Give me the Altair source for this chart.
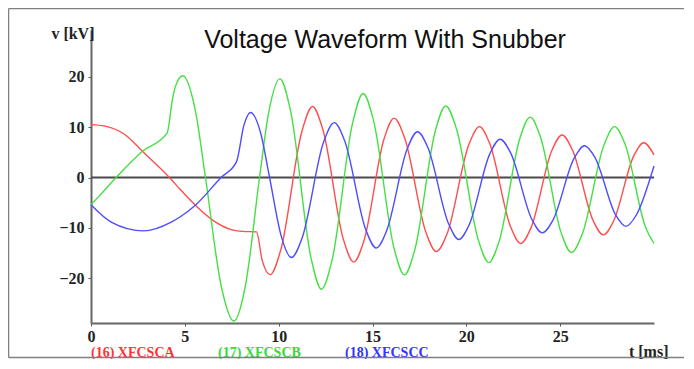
import altair as alt
import pandas as pd

# ---- data ----
series_names = ["(16) XFCSCA", "(17) XFCSCB", "(18) XFCSCC"]
series_colors = ["#ff4d4d", "#44e044", "#4d4dff"]
label_colors = ["#ff3333", "#33dd33", "#3333ff"]

red_t = [0, 0.75, 1.82, 2.74, 4.18, 4.76, 5.56, 6.54, 7.43, 8.1, 8.82, 9.12,
         9.55, 10.11, 11.24, 11.8, 12.35, 13.45, 14.0, 14.54, 15.61, 16.15,
         16.71, 17.84, 18.4, 18.98, 20.13, 20.7, 21.25, 22.35, 22.9, 23.45,
         24.55, 25.1, 25.65, 26.75, 27.3, 27.84, 28.91, 29.45, 30.0]
red_v = [10.5, 10.2, 8.5, 5.2, 0, -2.4, -5.5, -8.6, -10.3, -10.7, -10.8, -16.4,
         -19.3, -14.4, 9.2, 14.1, 9.6, -12.3, -16.8, -12.6, 7.6, 11.8,
         7.9, -10.8, -14.7, -11.1, 6.5, 10.1, 6.7, -9.7, -13.1, -9.95,
         5.3, 8.45, 5.5, -8.5, -11.4, -8.7, 4.2, 6.9, 4.5]

green_t = [0, 0.48, 1.34, 2.74, 4.05, 4.35, 4.49, 4.89, 5.57, 6.1, 6.93, 7.61,
           8.23, 8.98, 9.45, 10.07, 10.62, 11.73, 12.28, 12.84, 13.95, 14.5,
           15.05, 16.15, 16.7, 17.25, 18.35, 18.9, 19.48, 20.63, 21.2, 21.75,
           22.85, 23.4, 23.95, 25.05, 25.6, 26.18, 27.33, 27.9, 28.45, 29.55, 30.0]
green_v = [-5.4, -3.5, 0, 5.2, 8.8, 15.7, 18.0, 20.2, 13.1, 0, -21.4, -28.5,
           -21.45, 0, 12.55, 19.6, 13.5, -16.1, -22.2, -16.5, 11.0, 16.7,
           11.4, -14.1, -19.35, -14.4, 9.3, 14.2, 9.6, -12.3, -16.9, -12.65,
           7.75, 12.0, 8.05, -10.95, -14.9, -11.2, 6.4, 10.1, 6.7, -9.9, -13.1]

blue_t = [0, 1.1, 2.8, 4.3, 4.76, 5.56, 6.93, 7.75, 8.15, 8.5, 9.05, 9.5, 10.14,
          10.68, 11.25, 12.39, 12.96, 13.52, 14.64, 15.2, 15.75, 16.85, 17.4,
          17.95, 19.05, 19.6, 20.15, 21.25, 21.8, 22.36, 23.49, 24.05, 24.61,
          25.74, 26.3, 26.85, 27.95, 28.5, 29.05, 30.0]
blue_v = [-5.4, -8.9, -10.6, -8.8, -7.8, -5.5, 0, 3.1, 10.4, 12.9, 8.7, 0.3, -11.7,
          -15.9, -12.0, 7.0, 10.9, 7.25, -10.35, -14.0, -10.6, 5.7, 9.1,
          5.95, -9.15, -12.3, -9.4, 4.7, 7.6, 4.9, -8.3, -11.0, -8.5,
          3.8, 6.3, 4.0, -7.4, -9.7, -7.5, 2.3]

x_ticks = [0, 5, 10, 15, 20, 25]
y_ticks = [-20, -10, 0, 10, 20]
title_text = "Voltage Waveform With Snubber"

# ---- build table ----
rows = []
for order, (name, ts, vs) in enumerate(zip(series_names, [red_t, green_t, blue_t],
                                            [red_v, green_v, blue_v])):
    for t, v in zip(ts, vs):
        rows.append({"series": name, "t": t, "v": v, "k": order})
df = pd.DataFrame(rows)

W, H = 563, 293
PAD = {"left": 83, "top": 22, "right": 30, "bottom": 36}

x_scale = alt.Scale(domain=[0, 30], nice=False, zero=False)
y_scale = alt.Scale(domain=[-28.9, 29.3], nice=False, zero=False)

serif = "Liberation Serif"
x_axis = alt.Axis(values=x_ticks, title="t [ms]", titleAngle=0, titleAlign="right",
                  titleBaseline="middle", titleX=577, titleY=28, titleFont=serif,
                  titleFontWeight="bold", titleFontSize=16, titleColor="#222",
                  labelFont=serif, labelFontWeight="bold", labelFontSize=16,
                  labelColor="#222", labelPadding=2, tickSize=3, tickColor="#555",
                  domainColor="#666", domainWidth=2, grid=False, labelFlush=False)
y_axis = alt.Axis(values=y_ticks, title="v [kV]", titleAngle=0, titleAlign="right",
                  titleBaseline="middle", titleX=3, titleY=3, titleFont=serif,
                  titleFontWeight="bold", titleFontSize=16, titleColor="#222",
                  labelFont=serif, labelFontWeight="bold", labelFontSize=16,
                  labelColor="#222", labelPadding=4, tickSize=3, tickColor="#555",
                  domainColor="#666", domainWidth=2, grid=False, labelFlush=False)

zero = alt.Chart(pd.DataFrame({"v": [0]})).mark_rule(color="#4a4a4a", strokeWidth=1.8).encode(
    y=alt.Y("v:Q", scale=y_scale, axis=y_axis)
)

lines = alt.Chart(df).mark_line(interpolate="monotone", strokeWidth=1.4).encode(
    x=alt.X("t:Q", scale=x_scale, axis=x_axis),
    y=alt.Y("v:Q", scale=y_scale, axis=y_axis),
    color=alt.Color("series:N", scale=alt.Scale(domain=series_names, range=series_colors),
                    legend=None),
    detail="k:O",
)

title = alt.Chart(pd.DataFrame({"text": [title_text]})).mark_text(
    font="Liberation Sans", fontSize=25, align="center", baseline="middle", color="#111"
).encode(x=alt.value(294), y=alt.value(10), text="text:N")

legend_layers = []
for i, (name, col) in enumerate(zip(series_names, label_colors)):
    legend_layers.append(
        alt.Chart(pd.DataFrame({"text": [name]})).mark_text(
            font=serif, fontWeight="bold", fontSize=14, align="left",
            baseline="middle", color=col
        ).encode(x=alt.value(127 * i), y=alt.value(323), text="text:N")
    )

frame_top = alt.Chart(pd.DataFrame({"a": [0]})).mark_rule(color="#808080", strokeWidth=1.5).encode(
    x=alt.value(-82.5), x2=alt.value(W + PAD["right"]), y=alt.value(-21.5))
frame_bottom = alt.Chart(pd.DataFrame({"a": [0]})).mark_rule(color="#808080", strokeWidth=1.5).encode(
    x=alt.value(-82.5), x2=alt.value(W + PAD["right"]), y=alt.value(H + PAD["bottom"] - 1.5))
frame_left = alt.Chart(pd.DataFrame({"a": [0]})).mark_rule(color="#808080", strokeWidth=1.5).encode(
    x=alt.value(-82.5), y=alt.value(-21.5), y2=alt.value(H + PAD["bottom"] - 1.5))

chart = alt.layer(zero, lines, title, *legend_layers, frame_top, frame_bottom, frame_left).properties(
    width=W, height=H, padding=PAD, autosize="none"
).configure_view(stroke=None)

chart.save("out.html", embed_options={"renderer": "svg", "actions": False})
